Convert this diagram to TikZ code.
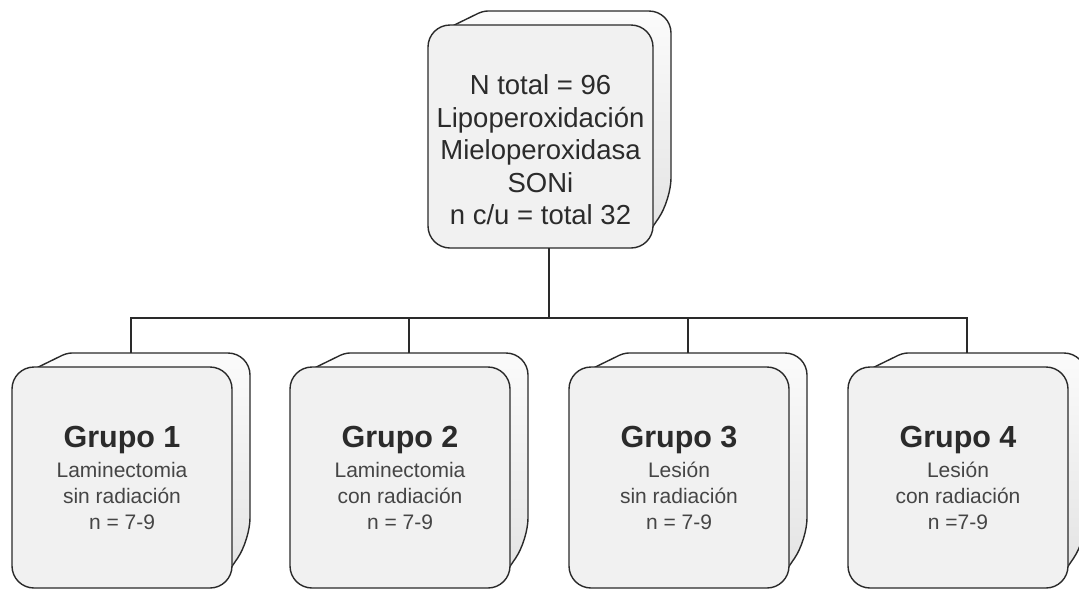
\documentclass[tikz,border=0pt]{standalone}
\usepackage{fontspec}
\setmainfont{Liberation Sans}
\usetikzlibrary{calc}
\definecolor{edge}{HTML}{2A2A2A}
\definecolor{frontfill}{HTML}{F1F1F1}
\definecolor{titletext}{HTML}{2B2B2B}
\definecolor{subtext}{HTML}{454545}
\tikzset{
  backbox/.style={draw=edge, line width=1.4pt, line join=round, top color=gray!3, bottom color=gray!22},
  frontbox/.style={draw=edge, line width=1.4pt, rounded corners=22pt, fill=frontfill, inner sep=0pt, align=center},
  link/.style={draw=edge, line width=1.8pt},
  toptext/.style={font=\fontsize{27.5}{32.5}\selectfont, text=titletext},
  grptext/.style={font=\fontsize{21}{26}\selectfont, text=subtext}
}
% #1 name, #2 x, #3 y (top of front), #4 width, #5 height, #6 style, #7 text
\newcommand\cubebox[7]{%
  \draw[backbox, rounded corners=5pt]
    ({#2+10},{#3+8}) -- ({#2+55},{#3-14})
    {[rounded corners=22pt] -- ({#2+#4+18},{#3-14}) -- ({#2+#4+18},{#3+#5-48})}
    -- ({#2+#4-8},{#3+#5-10}) -- ({#2+30},{#3+#5-10}) -- cycle;
  \node[frontbox, #6, minimum width=#4pt, minimum height=#5pt] (#1) at ({#2+#4/2},{#3+#5/2}) {#7};
  \coordinate (#1-top) at ({#2+(#4+18)/2},{#3-14});
}
\newcommand\grp[4]{{\fontsize{30.5}{30.5}\selectfont\bfseries\color{titletext}Grupo #1}\\[4pt]#2\\#3\\#4}
\begin{document}
\begin{tikzpicture}[x=1pt,y=-1pt]
\useasboundingbox (0,0) rectangle (1079,590);
\cubebox{total}{428}{25}{225}{223}{toptext}{\rule{0pt}{47pt}N total = 96\\Lipoperoxidación\\Mieloperoxidasa\\SONi\\n c/u = total 32}
\cubebox{g1}{12}{367}{220}{221}{grptext}{\grp{1}{Laminectomia}{sin radiación}{n = 7-9}}
\cubebox{g2}{290}{367}{220}{221}{grptext}{\grp{2}{Laminectomia}{con radiación}{n = 7-9}}
\cubebox{g3}{569}{367}{220}{221}{grptext}{\grp{3}{Lesión}{sin radiación}{n = 7-9}}
\cubebox{g4}{848}{367}{220}{221}{grptext}{\grp{4}{Lesión}{con radiación}{n =7-9}}
\coordinate (totalout) at (549,248);
\coordinate (bus) at (549,318);
\draw[link] (totalout) -- (bus);
\draw[link] (g1-top) |- (bus);
\draw[link] (g2-top) |- (bus);
\draw[link] (g3-top) |- (bus);
\draw[link] (g4-top) |- (bus);
\end{tikzpicture}
\end{document}
